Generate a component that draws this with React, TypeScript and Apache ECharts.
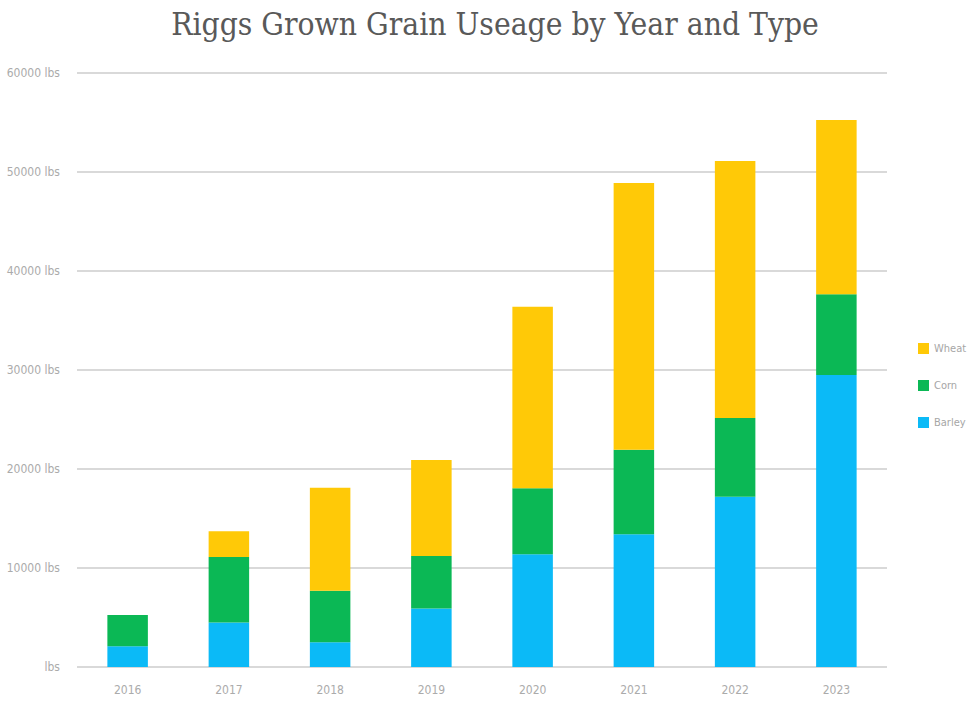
import React, { useEffect, useRef } from "react";
import * as echarts from "echarts";

const years = ["2016", "2017", "2018", "2019", "2020", "2021", "2022", "2023"];
const barley = [2100, 4500, 2500, 5900, 11400, 13400, 17200, 29500];
const corn = [3150, 6600, 5200, 5300, 6650, 8550, 7950, 8150];
const wheat = [0, 2600, 10400, 9700, 18350, 26950, 25950, 17600];

const labelFont = "'Liberation Sans Narrow', 'DejaVu Sans Condensed', sans-serif";

export default function App() {
  const ref = useRef<HTMLDivElement>(null);
  useEffect(() => {
    if (!ref.current) return;
    const chart = echarts.init(ref.current, undefined, { renderer: "svg" });
    chart.setOption({
      animation: false,
      backgroundColor: "#ffffff",
      title: {
        text: "Riggs Grown Grain Useage by Year and Type",
        left: 490,
        textAlign: "center",
        top: 3,
        textStyle: {
          fontFamily: "'DejaVu Serif Condensed', 'DejaVu Serif', serif",
          fontWeight: "normal",
          fontSize: 31.5,
          color: "#595959",
        },
      },
      legend: {
        orient: "vertical",
        left: 913,
        top: 338,
        itemWidth: 11,
        itemHeight: 11,
        itemGap: 26,
        icon: "rect",
        data: ["Wheat", "Corn", "Barley"],
        textStyle: { fontFamily: labelFont, fontSize: 11, color: "#a6a6a6" },
      },
      grid: { left: 77, right: 82, top: 73, bottom: 34, containLabel: false },
      xAxis: {
        type: "category",
        data: years,
        axisLine: { show: false },
        axisTick: { show: false },
        axisLabel: { margin: 17, fontFamily: labelFont, fontSize: 12, color: "#ababab" },
      },
      yAxis: {
        type: "value",
        min: 0,
        max: 60000,
        interval: 10000,
        axisLine: { show: false },
        axisTick: { show: false },
        splitLine: { lineStyle: { color: "#d9d9d9", width: 2 } },
        axisLabel: {
          margin: 17,
          fontFamily: labelFont,
          fontSize: 12,
          color: "#ababab",
          formatter: (v: number) => (v === 0 ? "lbs" : `${v} lbs`),
        },
      },
      series: [
        { name: "Barley", type: "bar", stack: "g", data: barley, barWidth: "40%", itemStyle: { color: "#0bbaf7" } },
        { name: "Corn", type: "bar", stack: "g", data: corn, barWidth: "40%", itemStyle: { color: "#0bb855" } },
        { name: "Wheat", type: "bar", stack: "g", data: wheat, barWidth: "40%", itemStyle: { color: "#ffc907" } },
      ],
    });
    return () => chart.dispose();
  }, []);
  return <div ref={ref} style={{ width: 969, height: 701, position: "absolute", left: 0, top: 0 }} />;
}
